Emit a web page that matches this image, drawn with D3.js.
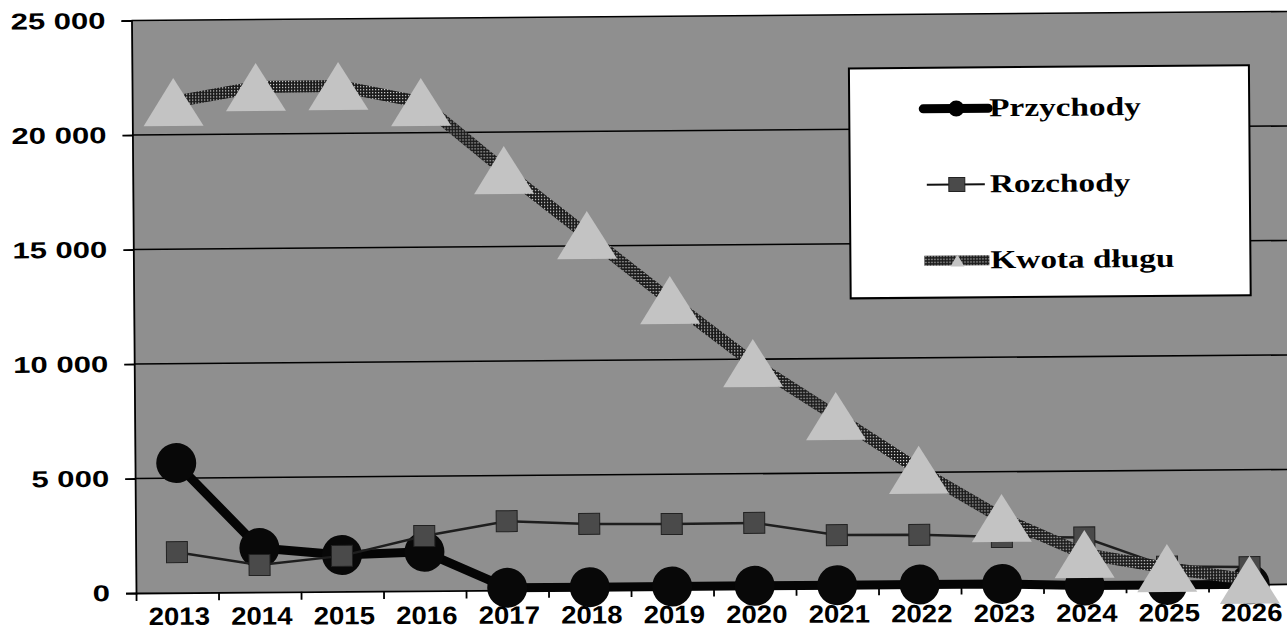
<!DOCTYPE html>
<html>
<head>
<meta charset="utf-8">
<script src="https://cdn.jsdelivr.net/npm/d3@7"></script>
<style>
  html, body { margin: 0; padding: 0; background: #fff; }
  svg { display: block; }
</style>
</head>
<body>
<svg id="chart" width="1287" height="632"></svg>
<script>
// Years on the category axis
const years = ["2013","2014","2015","2016","2017","2018","2019","2020","2021","2022","2023","2024","2025","2026"];

// Series values
const przychody = [5660, 1920, 1590, 1700, 100, 100, 100, 100, 100, 100, 100, 0, 0, 0];
const rozchody  = [1770, 1180, 1550, 2390, 3010, 2860, 2830, 2850, 2290, 2270, 2150, 2100, 800, 750];
const kwotaDlugu = [21430, 22050, 22070, 21340, 18340, 15480, 12610, 9830, 7490, 5110, 2980, 1380, 740, 200];

// Value axis ticks and their labels
const yTickValues = [0, 5000, 10000, 15000, 20000, 25000];
const yTickLabels = ["0", "5 000", "10 000", "15 000", "20 000", "25 000"];

// Legend entries
const seriesNames = ["Przychody", "Rozchody", "Kwota długu"];

const svg = d3.select("#chart");
const plotLeft = 136, plotTop = 20.5, plotBottom = 593;
const band = 82.5;
const plotRight = plotLeft + band * years.length;

const x = d3.scaleBand().domain(years).range([plotLeft, plotRight]).padding(0);
const cx = d => x(d) + x.bandwidth() / 2;
const y = d3.scaleLinear().domain([0, 25000]).range([plotBottom, plotTop]);

// defs: dotted dark stroke paint for the debt line
const defs = svg.append("defs");
const pat = defs.append("pattern")
  .attr("id", "dots").attr("patternUnits", "userSpaceOnUse")
  .attr("width", 3).attr("height", 3);
pat.append("rect").attr("width", 3).attr("height", 3).attr("fill", "#1a1a1a");
pat.append("rect").attr("x", 1).attr("y", 1).attr("width", 1.2).attr("height", 1.2).attr("fill", "#e0e0e0");

// the whole sheet sits very slightly rotated
const g = svg.append("g").attr("transform", `rotate(-0.45, ${plotLeft}, ${plotBottom})`);

// plot area
g.append("rect")
  .attr("x", plotLeft).attr("y", plotTop)
  .attr("width", plotRight - plotLeft + 20).attr("height", plotBottom - plotTop)
  .attr("fill", "#8f8f8f");

// horizontal gridlines
g.append("g").selectAll("line").data(yTickValues.filter(v => v > 0)).join("line")
  .attr("x1", plotLeft).attr("x2", plotRight + 20)
  .attr("y1", d => y(d)).attr("y2", d => y(d))
  .attr("stroke", "#000").attr("stroke-width", 1.6);

// axes
const yAxis = d3.axisLeft(y).tickValues(yTickValues).tickSize(10).tickFormat("");
const yAxisG = g.append("g").attr("transform", `translate(${plotLeft},0)`).call(yAxis);
yAxisG.selectAll("path, line").attr("stroke", "#000").attr("stroke-width", 1.8);

const xTickScale = d3.scaleLinear().domain([0, years.length]).range([plotLeft, plotRight]);
const xAxis = d3.axisBottom(xTickScale).tickValues(d3.range(0, years.length + 1)).tickSize(8).tickFormat("").tickSizeOuter(0);
const xAxisG = g.append("g").attr("transform", `translate(0,${plotBottom})`).call(xAxis);
xAxisG.selectAll("path, line").attr("stroke", "#000").attr("stroke-width", 1.8);

// stretched text helper
function stretchedText(parent, tx, ty, str, opts) {
  return parent.append("g").attr("transform", `translate(${tx},${ty}) scale(${opts.sx},1)`)
    .append("text")
    .attr("x", 0).attr("y", 0)
    .attr("text-anchor", opts.anchor || "start")
    .attr("font-family", opts.family)
    .attr("font-weight", "bold")
    .attr("font-size", opts.size)
    .attr("fill", "#000")
    .text(str);
}

// value labels
yTickValues.forEach((v, i) => {
  stretchedText(g, 110, y(v) + 8, yTickLabels[i],
    { sx: 1.35, anchor: "end", family: "'Liberation Sans', Arial, sans-serif", size: 23 });
});

// Przychody: heavy black line with round markers
const line = d3.line().x((d, i) => cx(years[i])).y(d => y(d));
g.append("path").datum(przychody).attr("d", line)
  .attr("fill", "none").attr("stroke", "#050505").attr("stroke-width", 9)
  .attr("stroke-linejoin", "round");
g.append("g").selectAll("circle").data(przychody).join("circle")
  .attr("cx", (d, i) => cx(years[i])).attr("cy", d => y(d)).attr("r", 20)
  .attr("fill", "#080808");

// Rozchody: thin line with square markers
g.append("path").datum(rozchody).attr("d", line)
  .attr("fill", "none").attr("stroke", "#1e1e1e").attr("stroke-width", 2.5);
g.append("g").selectAll("rect").data(rozchody).join("rect")
  .attr("x", (d, i) => cx(years[i]) - 10.5).attr("y", d => y(d) - 10.5)
  .attr("width", 21).attr("height", 21)
  .attr("fill", "#4a4a4a").attr("stroke", "#222").attr("stroke-width", 1);

// Kwota długu: dotted heavy line with triangle markers
g.append("path").datum(kwotaDlugu).attr("d", line)
  .attr("fill", "none").attr("stroke", "url(#dots)").attr("stroke-width", 12)
  .attr("stroke-linejoin", "round");
const tri = (px, py, w, h) => `M${px},${py - h / 2}L${px + w / 2},${py + h / 2}L${px - w / 2},${py + h / 2}Z`;
g.append("g").selectAll("path").data(kwotaDlugu).join("path")
  .attr("d", (d, i) => tri(cx(years[i]), y(d), 60, 48))
  .attr("fill", "#c3c3c3");

// category labels, on a gentler slant than the plot
const xl = svg.append("g").attr("transform", `rotate(-0.2, ${plotLeft}, ${plotBottom})`);
years.forEach(yr => {
  stretchedText(xl, cx(yr) + 2, 625, yr,
    { sx: 1.1, anchor: "middle", family: "'Liberation Sans', Arial, sans-serif", size: 25 });
});

// legend
const lg = g.append("g");
lg.append("rect").attr("x", 853).attr("y", 74).attr("width", 400).attr("height", 230)
  .attr("fill", "#fff").attr("stroke", "#000").attr("stroke-width", 2);
const rowsY = [115, 191, 267];
const sx1 = 927, sx2 = 992, smid = 960;
// row 1
lg.append("line").attr("x1", sx1).attr("x2", sx2).attr("y1", rowsY[0]).attr("y2", rowsY[0])
  .attr("stroke", "#000").attr("stroke-width", 9).attr("stroke-linecap", "round");
lg.append("circle").attr("cx", smid).attr("cy", rowsY[0]).attr("r", 8).attr("fill", "#000");
// row 2
lg.append("line").attr("x1", sx1 + 3).attr("x2", sx2 - 4).attr("y1", rowsY[1]).attr("y2", rowsY[1])
  .attr("stroke", "#111").attr("stroke-width", 2);
lg.append("rect").attr("x", smid - 8).attr("y", rowsY[1] - 7).attr("width", 16).attr("height", 14)
  .attr("fill", "#4a4a4a").attr("stroke", "#222");
// row 3
lg.append("line").attr("x1", sx1).attr("x2", sx2).attr("y1", rowsY[2]).attr("y2", rowsY[2])
  .attr("stroke", "url(#dots)").attr("stroke-width", 10);
lg.append("path").attr("d", tri(smid, rowsY[2], 14, 12)).attr("fill", "#c3c3c3");

seriesNames.forEach((name, i) => {
  stretchedText(lg, 993, rowsY[i] + 8, name,
    { sx: 1.28, anchor: "start", family: "'Liberation Serif', 'Times New Roman', serif", size: 26 });
});
</script>
</body>
</html>
